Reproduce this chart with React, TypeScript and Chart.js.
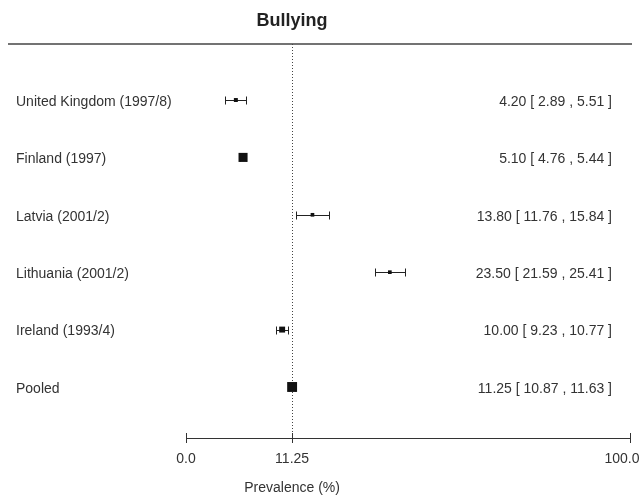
import React, { useEffect, useRef } from 'react';
import { Chart, registerables } from 'chart.js';

Chart.register(...registerables);

// ---- data ----
const studies = [
  'United Kingdom (1997/8)',
  'Finland (1997)',
  'Latvia (2001/2)',
  'Lithuania (2001/2)',
  'Ireland (1993/4)',
  'Pooled',
];
const estimates = [4.2, 5.1, 13.8, 23.5, 10.0, 11.25];
const lowerCI = [2.89, 4.76, 11.76, 21.59, 9.23, 10.87];
const upperCI = [5.51, 5.44, 15.84, 25.41, 10.77, 11.63];
const xTickLabels = ['0.0', '11.25', '100.0'];
const chartTitle = 'Bullying';
const xAxisTitle = 'Prevalence (%)';

const POOLED = studies.length - 1;
const X_MIN = -2.05;
const X_MAX = 53.6;
const FONT = '"Liberation Sans", Arial, sans-serif';
const TEXT = '#333';

const fmt = (v: number) => v.toFixed(2);

const forestPlugin = {
  id: 'forest',
  beforeDatasetsDraw(chart: any) {
    const { ctx, chartArea, scales } = chart;
    const x = scales.x;
    const y = scales.y;
    ctx.save();
    // top rule
    ctx.strokeStyle = '#444';
    ctx.lineWidth = 1.5;
    ctx.beginPath();
    ctx.moveTo(8, chartArea.top);
    ctx.lineTo(632, chartArea.top);
    ctx.stroke();
    // dotted reference line at pooled estimate
    const rx = Math.round(x.getPixelForValue(estimates[POOLED])) + 0.5;
    ctx.lineWidth = 1;
    ctx.setLineDash([1, 2]);
    ctx.beginPath();
    ctx.moveTo(rx, chartArea.top);
    ctx.lineTo(rx, chartArea.bottom);
    ctx.stroke();
    ctx.setLineDash([]);
    // confidence intervals
    ctx.strokeStyle = '#222';
    ctx.lineWidth = 1;
    estimates.forEach((_, i) => {
      const py = Math.round(y.getPixelForValue(i)) + 0.5;
      const x1 = Math.round(x.getPixelForValue(lowerCI[i])) + 0.5;
      const x2 = Math.round(x.getPixelForValue(upperCI[i])) + 0.5;
      ctx.beginPath();
      ctx.moveTo(x1, py);
      ctx.lineTo(x2, py);
      ctx.moveTo(x1, py - 4);
      ctx.lineTo(x1, py + 4);
      ctx.moveTo(x2, py - 4);
      ctx.lineTo(x2, py + 4);
      ctx.stroke();
    });
    // upper half of axis tick marks
    ctx.strokeStyle = '#333';
    x.ticks.forEach((_: any, i: number) => {
      const tx = Math.round(x.getPixelForTick(i)) + 0.5;
      ctx.beginPath();
      ctx.moveTo(tx, chartArea.bottom - 5);
      ctx.lineTo(tx, chartArea.bottom);
      ctx.stroke();
    });
    ctx.restore();
  },
  afterDraw(chart: any) {
    const { ctx, chartArea, scales } = chart;
    const x = scales.x;
    const y = scales.y;
    const cx = x.getPixelForValue(estimates[POOLED]);
    ctx.save();
    ctx.fillStyle = '#222';
    ctx.textAlign = 'center';
    ctx.textBaseline = 'middle';
    ctx.font = `bold 18px ${FONT}`;
    ctx.fillText(chartTitle, cx, 21);
    ctx.fillStyle = TEXT;
    ctx.font = `14px ${FONT}`;
    ctx.fillText(xAxisTitle, cx, 488);
    ctx.textAlign = 'right';
    estimates.forEach((e, i) => {
      const py = y.getPixelForValue(i) + 2;
      ctx.fillText(`${fmt(e)} [ ${fmt(lowerCI[i])} , ${fmt(upperCI[i])} ]`, chartArea.right - 18, py);
    });
    ctx.restore();
  },
};

export default function App() {
  const ref = useRef<HTMLCanvasElement | null>(null);

  useEffect(() => {
    if (!ref.current) return;
    const chart = new Chart(ref.current, {
      type: 'scatter',
      data: {
        datasets: [
          {
            data: estimates.map((e, i) => ({ x: e, y: i })),
            pointStyle: 'rect',
            pointRadius: [2.8, 6.4, 2.6, 2.6, 4.2, 7],
            pointHoverRadius: [2.8, 6.4, 2.6, 2.6, 4.2, 7],
            backgroundColor: '#111',
            borderColor: '#111',
            borderWidth: 0,
            showLine: false,
          },
        ],
      },
      options: {
        responsive: false,
        animation: false,
        devicePixelRatio: 1,
        layout: { padding: { top: 44, left: 16, right: 9, bottom: 0 } },
        plugins: {
          legend: { display: false },
          tooltip: { enabled: false },
          title: { display: false },
        },
        scales: {
          x: {
            type: 'linear',
            position: 'bottom',
            min: X_MIN,
            max: X_MAX,
            afterBuildTicks: (s: any) => {
              s.ticks = [X_MIN, estimates[POOLED], X_MAX].map((v) => ({ value: v }));
            },
            afterFit: (s: any) => {
              s.height = 59;
              s.paddingLeft = 0;
              s.paddingRight = 0;
              if (!s.__patched) {
                const orig = s.getLabelItems.bind(s);
                s.getLabelItems = (area: any) => {
                  const items = orig(area);
                  const last = items[items.length - 1];
                  if (last && !last.__shifted) {
                    last.options.translation[0] -= 8;
                    last.__shifted = true;
                  }
                  return items;
                };
                s.__patched = true;
              }
            },
            grid: {
              display: true,
              drawOnChartArea: false,
              drawTicks: true,
              tickLength: 5,
              color: '#333',
            },
            border: { display: true, color: '#333', width: 1 },
            ticks: {
              autoSkip: false,
              maxRotation: 0,
              padding: 8,
              color: TEXT,
              font: { family: FONT, size: 14 },
              callback: (_v: any, i: number) => xTickLabels[i],
            },
          },
          y: {
            type: 'linear',
            position: 'left',
            reverse: true,
            min: -0.976,
            max: 5.889,
            afterBuildTicks: (s: any) => {
              s.ticks = studies.map((_, i) => ({ value: i }));
            },
            afterFit: (s: any) => {
              s.width = 170;
            },
            grid: { display: false },
            border: { display: false },
            ticks: {
              crossAlign: 'far',
              labelOffset: 2,
              color: TEXT,
              font: { family: FONT, size: 14 },
              callback: (v: any) => studies[v as number] ?? '',
            },
          },
        },
      },
      plugins: [forestPlugin],
    } as any);
    return () => chart.destroy();
  }, []);

  return (
    <div style={{ position: 'absolute', left: 0, top: 0, width: 639, height: 497, background: '#fff' }}>
      <canvas ref={ref} width={639} height={497} style={{ display: 'block' }} />
    </div>
  );
}
